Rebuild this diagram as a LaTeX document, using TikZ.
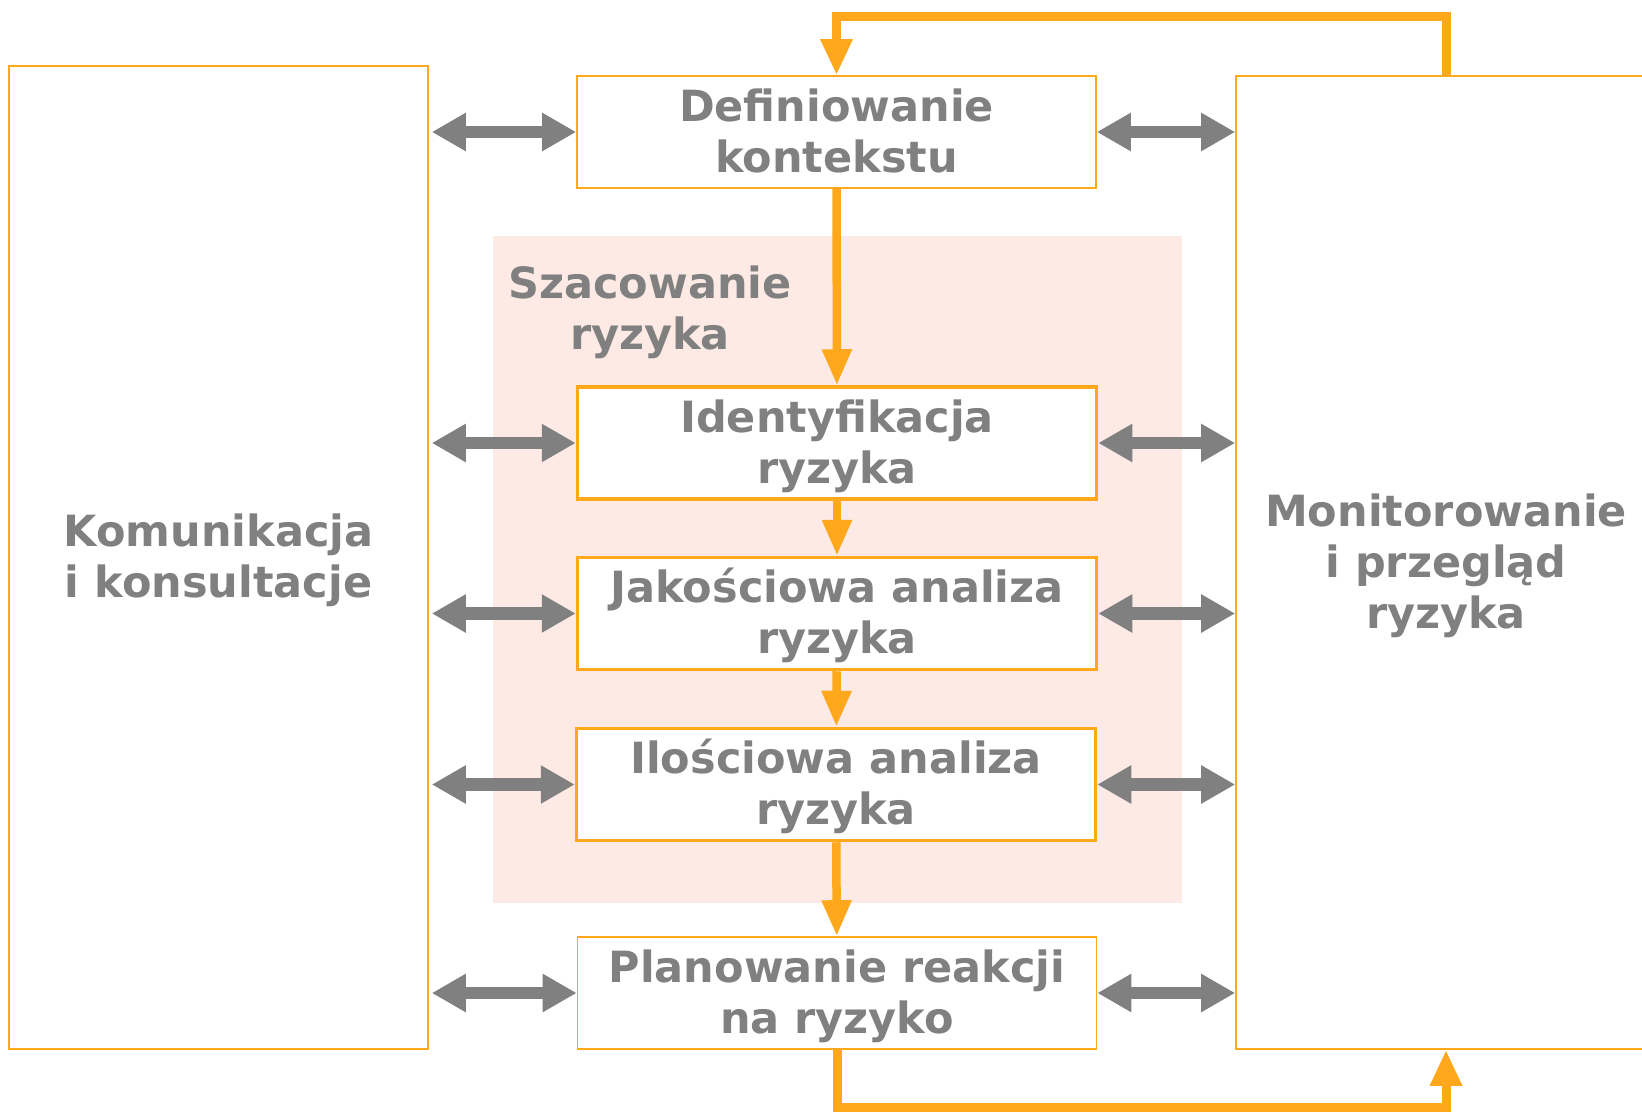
\documentclass[tikz,border=0pt]{standalone}
\usepackage{fontspec}
\setmainfont{DejaVu Sans}
\usetikzlibrary{arrows.meta}
\definecolor{org}{RGB}{255,168,28}
\definecolor{gry}{RGB}{128,128,128}
\definecolor{pnk}{RGB}{253,234,228}
\newcommand{\lowtext}[1]{\raisebox{-4.5pt}[\height][\depth]{\begin{tabular}{@{}c@{}}#1\end{tabular}}}
\begin{document}
\begin{tikzpicture}[x=1pt,y=-1pt,
  txt/.style={font=\bfseries\fontsize{43}{51}\selectfont, text=gry, align=center, inner sep=0pt},
  box/.style={txt, draw=org, line width=1.6pt, fill=white, minimum width=519pt, minimum height=112pt},
  tbox/.style={box, line width=3.5pt},
  gar/.style={draw=gry, line width=12.5pt, {Triangle[width=36pt,length=34pt]}-{Triangle[width=36pt,length=34pt]}},
  oar/.style={draw=org, line width=8.5pt, -{Triangle[width=28pt,length=36pt]}},
  fb/.style={draw=org, line width=9pt, -{Triangle[width=30pt,length=36pt]}}
]
\useasboundingbox (0,0) rectangle (1642,1113);
\fill[pnk] (493,236) rectangle (1182,903);
\node[txt] (sz) at (650,309) {\lowtext{Szacowanie\\ryzyka}};
\node[txt, draw=org, line width=1.6pt, minimum width=419pt, minimum height=983pt] (kom) at (218.5,557.5) {\lowtext{Komunikacja\\i konsultacje}};
\node[txt, draw=org, line width=1.6pt, minimum width=420pt, minimum height=973pt] (mon) at (1446,562.5) {\lowtext{Monitorowanie\\i przegląd\\ryzyka}};
\node[box] (def) at (836.5,132) {\lowtext{Definiowanie\\kontekstu}};
\node[tbox] (idf) at (837,443) {\lowtext{Identyfikacja\\ryzyka}};
\node[tbox] (jak) at (837,613.5) {\lowtext{Jakościowa analiza\\ryzyka}};
\node[tbox] (ilo) at (836,784.5) {\lowtext{Ilościowa analiza\\ryzyka}};
\node[box] (pla) at (837,993) {\lowtext{Planowanie reakcji\\na ryzyko}};
\foreach \n in {def,idf,jak,ilo,pla}{
  \draw[gar, shorten <=3pt] (kom.east |- \n.west) -- (\n.west);
  \draw[gar] (\n.east) -- (mon.west |- \n.east);
}
\draw[oar] (def) -- (idf);
\draw[oar] (idf) -- (jak);
\draw[oar] (jak) -- (ilo);
\draw[oar] (ilo) -- (pla);
\coordinate (t1) at (1446,17);
\coordinate (t2) at (836.5,17);
\draw[fb] (mon.north) -- (t1) -- (t2) -- (def.north);
\coordinate (b1) at (837,1107);
\coordinate (b2) at (1446,1107);
\draw[fb] (pla.south) -- (b1) -- (b2) -- (mon.south);
\end{tikzpicture}
\end{document}
